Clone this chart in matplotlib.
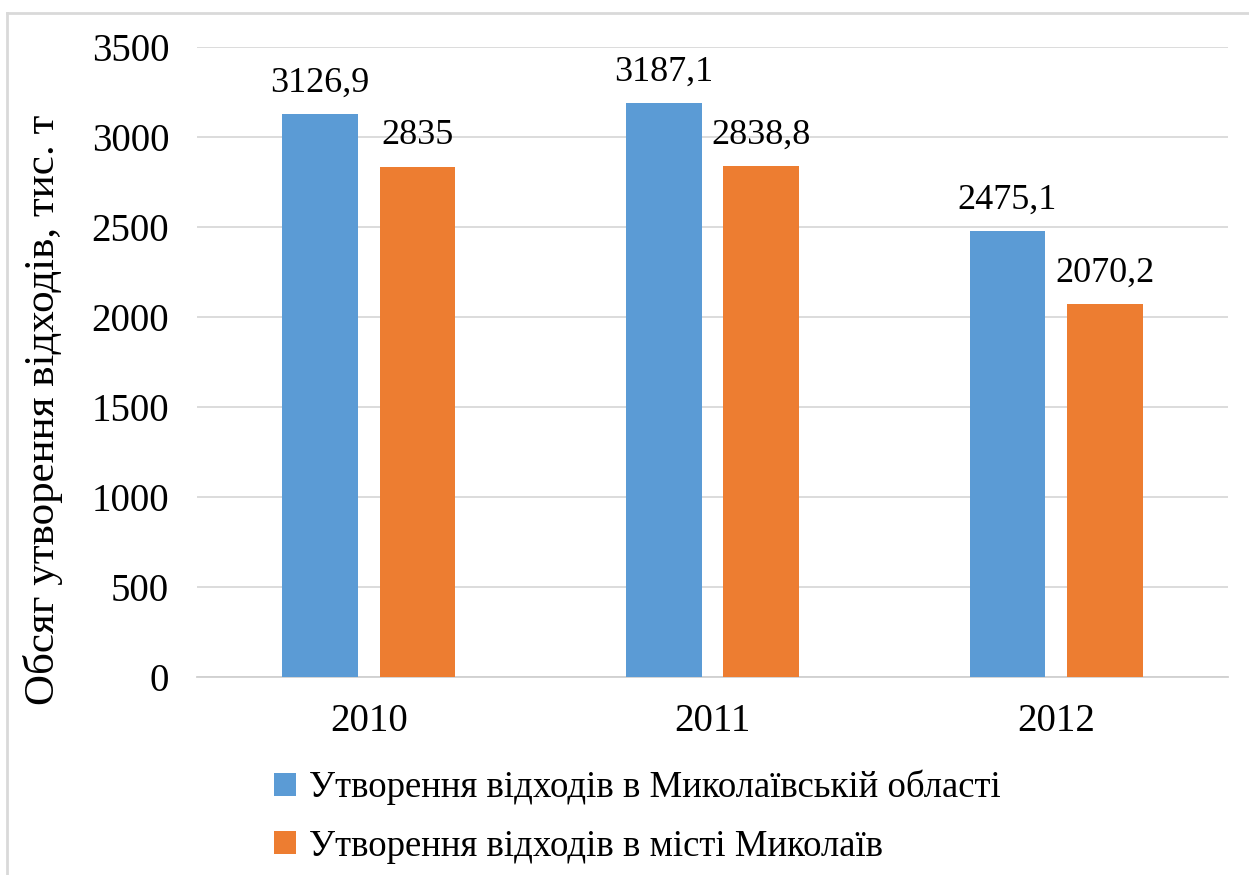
import numpy as np
import matplotlib.pyplot as plt
from matplotlib.lines import Line2D

years = ['2010', '2011', '2012']
oblast = [3126.9, 3187.1, 2475.1]
city = [2835, 2838.8, 2070.2]
oblast_labels = ['3126,9', '3187,1', '2475,1']
city_labels = ['2835', '2838,8', '2070,2']
series_names = ['Утворення відходів в Миколаївській області',
                'Утворення відходів в місті Миколаїв']

plt.rcParams['font.family'] = ['Liberation Serif', 'DejaVu Serif']

fig = plt.figure(figsize=(12.49, 8.75), dpi=100)
ax = fig.add_axes([197 / 1249, 1 - 677 / 875, 1031 / 1249, 630 / 875])

x = np.arange(len(years))
w = 0.22
off = 0.142
b1 = ax.bar(x - off, oblast, w, color='#5B9BD5', zorder=3)
b2 = ax.bar(x + off, city, w, color='#ED7D31', zorder=3)

for rect, lab in zip(b1, oblast_labels):
    ax.text(rect.get_x() + rect.get_width() / 2, rect.get_height() + 80, lab,
            ha='center', va='bottom', fontsize=26)
for rect, lab in zip(b2, city_labels):
    ax.text(rect.get_x() + rect.get_width() / 2, rect.get_height() + 80, lab,
            ha='center', va='bottom', fontsize=26)

ax.set_xlim(-0.5, 2.5)
ax.set_ylim(0, 3500)
ax.set_yticks(range(0, 3501, 500))
ax.set_xticks(x)
ax.set_xticklabels(years)
ax.tick_params(axis='both', length=0, labelsize=28)
ax.tick_params(axis='y', pad=20)
ax.tick_params(axis='x', pad=19)
ax.yaxis.grid(True, color='#d9d9d9', linewidth=1.3, zorder=0)
for s in ['top', 'right', 'left']:
    ax.spines[s].set_visible(False)
ax.spines['bottom'].set_color('#d0d0d0')
ax.spines['bottom'].set_linewidth(1.3)

fig.text(43 / 1249, 1 - 410 / 875, 'Обсяг утворення відходів, тис. т',
         rotation=90, ha='center', va='center', fontsize=31)

leg = fig.legend([b1, b2], series_names, loc='upper left',
                 bbox_to_anchor=(248 / 1249, 1 - 744 / 875), frameon=False,
                 fontsize=26.5, handlelength=0.6, handleheight=0.6,
                 handletextpad=0.35, labelspacing=0.65, borderpad=0.2)

# figure border (top and left visible)
fig.add_artist(Line2D([7 / 1249, 7 / 1249], [0, 1 - 13 / 875],
                      transform=fig.transFigure, color='#d9d9d9', linewidth=2))
fig.add_artist(Line2D([7 / 1249, 1], [1 - 13 / 875, 1 - 13 / 875],
                      transform=fig.transFigure, color='#d9d9d9', linewidth=2))

fig.savefig('out.png', dpi=100)
